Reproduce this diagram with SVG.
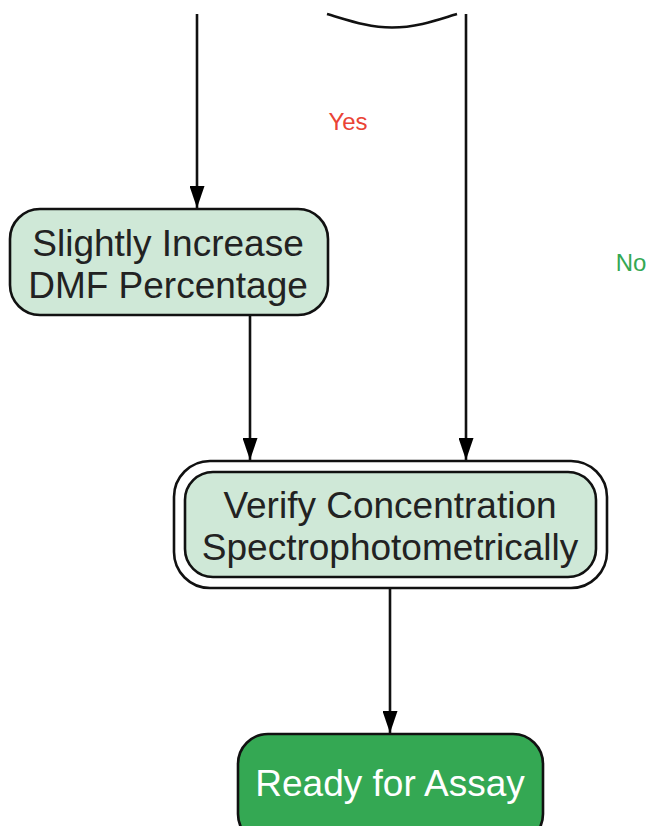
<svg xmlns="http://www.w3.org/2000/svg" width="652" height="826" viewBox="0 0 652 826">
  <style>
    .node { fill: #cfe8d7; stroke: #111; stroke-width: 2.6; }
    .outer { fill: #fff; stroke: #111; stroke-width: 2.6; }
    .final { fill: #34a853; stroke: #111; stroke-width: 2.6; }
    .lbl { font-family: "Liberation Sans", Arial, sans-serif; font-size: 37px; fill: #222; text-anchor: middle; }
    .lblw { font-family: "Liberation Sans", Arial, sans-serif; font-size: 37px; fill: #fff; text-anchor: middle; }
    .edge { fill: none; stroke: #111; stroke-width: 2.6; }
    .elbl { font-family: "Liberation Sans", Arial, sans-serif; font-size: 24px; }
  </style>
  <defs>
    <marker id="arrow" markerUnits="userSpaceOnUse" markerWidth="22" markerHeight="15" refX="22" refY="7.5" viewBox="0 0 22 15" orient="auto">
      <path d="M0,0 L22,7.5 L0,15 Z" fill="#000"/>
    </marker>
  </defs>
  <rect width="652" height="826" fill="#fff"/>

  <g id="top-shape">
    <path class="edge" d="M327,14 C348,20 368,27.5 392,27.5 C418,27.5 440,19 457,14"/>
  </g>

  <g id="connectors">
    <line class="edge" x1="197" y1="14" x2="197" y2="208" marker-end="url(#arrow)"/>
    <line class="edge" x1="466" y1="14" x2="466" y2="460" marker-end="url(#arrow)"/>
    <line class="edge" x1="250" y1="315" x2="250" y2="460" marker-end="url(#arrow)"/>
    <line class="edge" x1="390" y1="588" x2="390" y2="733" marker-end="url(#arrow)"/>
    <text class="elbl" x="348" y="130" text-anchor="middle" fill="#ea4335">Yes</text>
    <text class="elbl" x="631" y="271" text-anchor="middle" fill="#34a853">No</text>
  </g>

  <g id="node-increase-dmf">
    <rect class="node" x="10" y="209" width="318" height="106" rx="30" ry="30"/>
    <text class="lbl" x="168" y="256">Slightly Increase</text>
    <text class="lbl" x="168" y="298">DMF Percentage</text>
  </g>

  <g id="node-verify">
    <rect class="outer" x="174" y="461" width="433" height="127" rx="36" ry="36"/>
    <rect class="node" x="185" y="472" width="411" height="105" rx="28" ry="28"/>
    <text class="lbl" x="390" y="518">Verify Concentration</text>
    <text class="lbl" x="390" y="560">Spectrophotometrically</text>
  </g>

  <g id="node-ready">
    <rect class="final" x="238" y="734" width="305" height="110" rx="30" ry="30"/>
    <text class="lblw" x="390" y="796">Ready for Assay</text>
  </g>
</svg>
